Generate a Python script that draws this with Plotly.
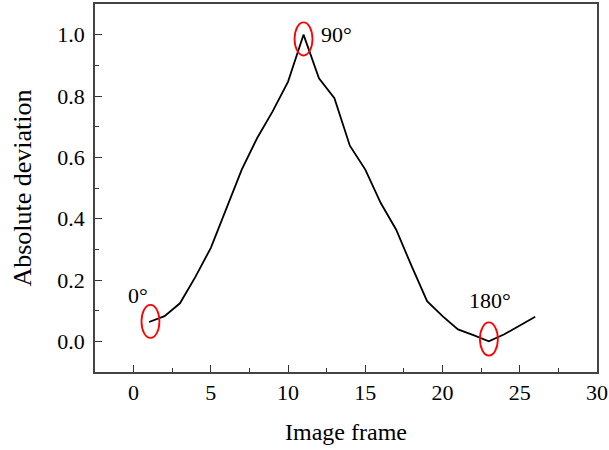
import plotly.graph_objects as go

frames = list(range(1, 27))
deviation = [0.063, 0.082, 0.124, 0.21, 0.305, 0.43, 0.56, 0.663, 0.75, 0.847,
             1.0, 0.858, 0.793, 0.638, 0.56, 0.451, 0.364, 0.245, 0.131, 0.082,
             0.039, 0.02, 0.0, 0.023, 0.052, 0.08]

marker_labels = ["0°", "90°", "180°"]
marker_frames = [1.09, 11.0, 23.0]
marker_values = [0.065, 0.986, 0.0075]
label_x = [0.31, 13.16, 23.1]
label_y = [0.15, 1.002, 0.133]

FONT = "Liberation Serif"

fig = go.Figure()
fig.add_trace(go.Scatter(x=frames, y=deviation, mode="lines",
                         line=dict(color="black", width=1.8), showlegend=False))

for cx, cy in zip(marker_frames, marker_values):
    fig.add_shape(type="circle", xref="x", yref="y",
                  x0=cx - 0.58, x1=cx + 0.58, y0=cy - 0.054, y1=cy + 0.054,
                  line=dict(color="red", width=1.8))

for t, lx, ly in zip(marker_labels, label_x, label_y):
    fig.add_annotation(x=lx, y=ly, text=t, showarrow=False,
                       font=dict(family=FONT, size=22, color="black"))

axis_common = dict(showline=True, mirror=True, linecolor="#444", linewidth=1.5,
                   ticks="inside", ticklen=7, tickwidth=1.3, tickcolor="#333",
                   showgrid=False, zeroline=False, automargin=False,
                   tickfont=dict(family=FONT, size=22, color="black"))

fig.update_xaxes(range=[-2.5, 30], dtick=5, tick0=0,
                 minor=dict(ticks="inside", ticklen=4, dtick=2.5, tick0=0, tickcolor="#333"),
                 title=dict(text="Image frame", font=dict(family=FONT, size=24, color="black"), standoff=19),
                 ticklabelstandoff=0, **axis_common)
fig.update_yaxes(range=[-0.1, 1.1], dtick=0.2, tick0=0, tickformat=".1f",
                 minor=dict(ticks="inside", ticklen=4, dtick=0.1, tick0=0, tickcolor="#333"),
                 title=dict(text="Absolute deviation", font=dict(family=FONT, size=26, color="black"), standoff=18),
                 ticklabelstandoff=4, **axis_common)

fig.update_layout(width=609, height=450, margin=dict(l=95, r=12, t=4, b=78, autoexpand=False),
                  paper_bgcolor="white", plot_bgcolor="white",
                  font=dict(family=FONT))

fig.write_html("out.html", config={"displayModeBar": False},
               post_script="document.body.style.margin='0';")
